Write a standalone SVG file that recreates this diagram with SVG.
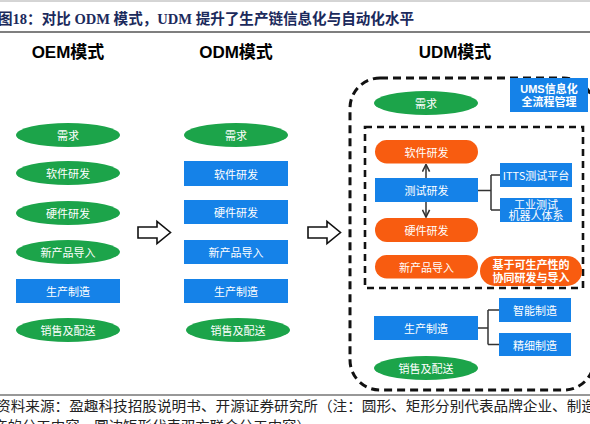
<svg xmlns="http://www.w3.org/2000/svg" width="590" height="424" viewBox="0 0 590 424">
<style>
.t{font-family:"Noto Sans CJK SC","Liberation Sans",sans-serif;font-size:11px;fill:#fff;text-anchor:middle;dominant-baseline:central}
.m{font-family:"Liberation Sans","Noto Sans CJK SC",sans-serif}
.b{font-weight:bold}
.h{font-family:"Liberation Sans","Noto Sans CJK SC",sans-serif;font-size:17px;font-weight:bold;fill:#000;text-anchor:middle}
.g{fill:#1CA44A}
.bl{fill:#1582E8}
.o{fill:#F85C10}
.ln{fill:none;stroke:#333;stroke-width:1.5}
.ser{font-family:"Liberation Serif","Noto Sans CJK SC",serif}
</style>
<defs>
<marker id="ah" viewBox="0 0 10 10" refX="9" refY="5" markerWidth="6" markerHeight="6" orient="auto"><path d="M1,1 L9,5 L1,9" fill="none" stroke="#333" stroke-width="1.8"/></marker>
</defs>
<rect width="590" height="424" fill="#fff"/>
<line x1="0" y1="1" x2="590" y2="1" stroke="#aaa" stroke-width="1"/>
<text class="ser b" x="-2" y="24" font-size="15" fill="#1B2A5C" textLength="416" lengthAdjust="spacingAndGlyphs">图18：对比 ODM 模式，UDM 提升了生产链信息化与自动化水平</text>
<line x1="0" y1="32" x2="590" y2="32" stroke="#555" stroke-width="1.5"/>

<text class="h" x="68" y="58">OEM模式</text>
<text class="h" x="236" y="58">ODM模式</text>
<text class="h" x="455" y="58">UDM模式</text>

<g id="oem">
<g id="oem-xq"><ellipse class="g" cx="68" cy="135" rx="52" ry="12"/><text class="t" x="68" y="135">需求</text></g>
<g id="oem-rj"><ellipse class="g" cx="68" cy="173" rx="52" ry="12"/><text class="t" x="68" y="173">软件研发</text></g>
<g id="oem-yj"><ellipse class="g" cx="68" cy="213" rx="52" ry="12"/><text class="t" x="68" y="213">硬件研发</text></g>
<g id="oem-xcp"><ellipse class="g" cx="68" cy="252" rx="52" ry="12"/><text class="t" x="68" y="252">新产品导入</text></g>
<g id="oem-sc"><rect class="bl" x="16" y="279" width="104" height="24"/><text class="t" x="68" y="291">生产制造</text></g>
<g id="oem-xs"><ellipse class="g" cx="68" cy="330" rx="52" ry="12"/><text class="t" x="68" y="330">销售及配送</text></g>
</g>

<g id="odm">
<g id="odm-xq"><ellipse class="g" cx="236" cy="135" rx="52" ry="12"/><text class="t" x="236" y="135">需求</text></g>
<g id="odm-rj"><rect class="bl" x="184" y="161" width="104" height="25"/><text class="t" x="236" y="173.5">软件研发</text></g>
<g id="odm-yj"><rect class="bl" x="184" y="200" width="104" height="24"/><text class="t" x="236" y="212">硬件研发</text></g>
<g id="odm-xcp"><rect class="bl" x="184" y="240" width="104" height="24"/><text class="t" x="236" y="252">新产品导入</text></g>
<g id="odm-sc"><rect class="bl" x="184" y="279" width="104" height="24"/><text class="t" x="236" y="291">生产制造</text></g>
<g id="odm-xs"><ellipse class="g" cx="238" cy="330" rx="52" ry="12"/><text class="t" x="238" y="330">销售及配送</text></g>
</g>

<g id="arrows-big" fill="#fff" stroke="#111" stroke-width="1.6" stroke-linejoin="miter">
<path id="arr1" d="M138,227 L157,227 L157,221.5 L170.5,232.5 L157,243.5 L157,238 L138,238 Z"/>
<path id="arr2" d="M308,227 L327,227 L327,221.5 L340.5,232.5 L327,243.5 L327,238 L308,238 Z"/>
</g>

<g id="udm-frames" fill="none" stroke="#111">
<rect id="udm-outer" x="350" y="78" width="244" height="312" rx="30" stroke-width="3" stroke-dasharray="8 5"/>
<rect id="udm-inner" x="365" y="127" width="218" height="161" stroke-width="2.6" stroke-dasharray="7 5"/>
</g>

<g id="connectors">
<line class="ln" x1="426" y1="178" x2="426" y2="164.5" marker-end="url(#ah)"/>
<line class="ln" x1="426" y1="202" x2="426" y2="217" marker-end="url(#ah)"/>
<path class="ln" d="M478,190.5 H491 M491,175 V210 M491,175 H500 M491,210 H500"/>
<path class="ln" d="M478,328 H488 M488,310 V344.5 M488,310 H499 M488,344.5 H499"/>
</g>

<g id="udm">
<g id="udm-ums"><rect class="bl" x="510" y="78" width="78" height="34"/><text class="t m b" font-size="10.5"><tspan x="549" y="88.5">UMS信息化</tspan><tspan x="549" y="102">全流程管理</tspan></text></g>
<g id="udm-xq"><ellipse class="g" cx="426" cy="103" rx="52" ry="12"/><text class="t" x="426" y="103">需求</text></g>
<g id="udm-rj"><rect class="o" x="375" y="140" width="103" height="23.5" rx="11.75"/><text class="t" x="426.5" y="151.75">软件研发</text></g>
<g id="udm-cs"><rect class="bl" x="375" y="178" width="103" height="24"/><text class="t" x="426.5" y="190">测试研发</text></g>
<g id="udm-itts"><rect class="bl" x="500" y="163" width="72" height="24"/><text class="t" x="536" y="175" font-size="10">ITTS测试平台</text></g>
<g id="udm-gy"><rect class="bl" x="500" y="198" width="72" height="24"/><text class="t m" font-size="9"><tspan x="536" y="204.5">工业测试</tspan><tspan x="536" y="215.5">机器人体系</tspan></text></g>
<g id="udm-yj"><rect class="o" x="375" y="218" width="103" height="24" rx="12"/><text class="t" x="426.5" y="230">硬件研发</text></g>
<g id="udm-xcp"><rect class="o" x="375" y="255" width="103" height="23.5" rx="11.75"/><text class="t" x="426.5" y="266.75">新产品导入</text></g>
<g id="udm-jy"><rect class="o" x="480" y="256" width="102" height="30" rx="15"/><text class="t m b" font-size="10.5"><tspan x="531" y="264.5">基于可生产性的</tspan><tspan x="531" y="278">协同研发与导入</tspan></text></g>
<g id="udm-sc"><rect class="bl" x="374" y="316" width="104" height="24"/><text class="t" x="426" y="328">生产制造</text></g>
<g id="udm-zn"><rect class="bl" x="499" y="298" width="72" height="24"/><text class="t" x="535" y="310">智能制造</text></g>
<g id="udm-jx"><rect class="bl" x="499" y="333" width="72" height="23"/><text class="t" x="535" y="344.5">精细制造</text></g>
<g id="udm-xs"><ellipse class="g" cx="426" cy="368" rx="52" ry="12"/><text class="t" x="426" y="368">销售及配送</text></g>
</g>

<line x1="0" y1="395" x2="590" y2="395" stroke="#333" stroke-width="1.2"/>
<text class="ser" x="-4" y="411" font-size="14" fill="#222" textLength="600" lengthAdjust="spacingAndGlyphs">资料来源：盈趣科技招股说明书、开源证券研究所（注：圆形、矩形分别代表品牌企业、制造</text>
<text class="ser" x="-7" y="431" font-size="14" fill="#222" textLength="318" lengthAdjust="spacingAndGlyphs">商的分工内容，圆边矩形代表双方联合分工内容）</text>
</svg>
